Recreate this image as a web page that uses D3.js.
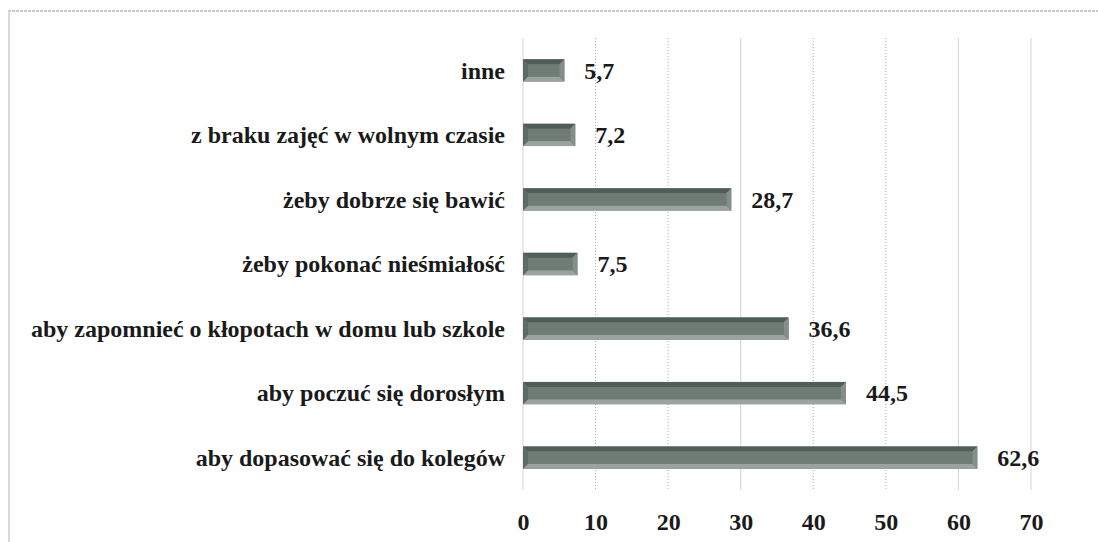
<!DOCTYPE html>
<meta charset="utf-8">
<style>
body { margin: 0; background: #fff; }
svg { font-family: "Liberation Serif", "Times New Roman", serif; font-weight: bold; }
.cat { font-size: 24px; fill: #1a1a1a; }
.val { font-size: 24px; fill: #1a1a1a; }
.tick text { font-size: 24px; fill: #1a1a1a; font-family: "Liberation Serif", serif; font-weight: bold; }
</style>
<body>
<div id="chart"></div>
<script src="https://cdnjs.cloudflare.com/ajax/libs/d3/7.8.5/d3.min.js"></script>
<script>
var categories = [
  "inne",
  "z braku zajęć w wolnym czasie",
  "żeby dobrze się bawić",
  "żeby pokonać nieśmiałość",
  "aby zapomnieć o kłopotach w domu lub szkole",
  "aby poczuć się dorosłym",
  "aby dopasować się do kolegów"
];
var values = [5.7, 7.2, 28.7, 7.5, 36.6, 44.5, 62.6];
var tickValues = [0, 10, 20, 30, 40, 50, 60, 70];

var W = 1098, H = 542;
var margin = {top: 38, left: 523, right: 67, bottom: 52};

var svg = d3.select("#chart").append("svg")
    .attr("width", W)
    .attr("height", H);

// frame: dotted top edge and light left edge
svg.append("line")
    .attr("x1", 8).attr("x2", W).attr("y1", 11).attr("y2", 11)
    .attr("stroke", "#c8c8c8").attr("stroke-width", 2).attr("stroke-dasharray", "3,1");
svg.append("line")
    .attr("x1", 9).attr("x2", 9).attr("y1", 11).attr("y2", H)
    .attr("stroke", "#dadada").attr("stroke-width", 2);

var x = d3.scaleLinear().domain([0, 70]).range([margin.left, W - margin.right]);
var y = d3.scaleBand().domain(categories).range([margin.top, H - margin.bottom]).paddingInner(0.655).paddingOuter(0.33);

// grid
svg.append("g").selectAll("line")
    .data(tickValues)
    .enter().append("line")
    .attr("x1", function(d) { return x(d); })
    .attr("x2", function(d) { return x(d); })
    .attr("y1", margin.top)
    .attr("y2", H - margin.bottom)
    .attr("stroke", function(d) { return d % 30 == 0 || d == 70 ? "#d4d4d4" : "#aaa"; })
    .attr("stroke-width", 1)
    .attr("stroke-dasharray", function(d) { return d % 30 == 0 || d == 70 ? null : "1,2"; });

// x axis labels
var xAxis = d3.axisBottom(x).tickValues(tickValues).tickSize(0).tickPadding(0);
var ax = svg.append("g")
    .attr("class", "x axis")
    .attr("transform", "translate(0," + (H - 20) + ")")
    .call(xAxis);
ax.select(".domain").remove();
ax.selectAll("text").attr("dy", "0.35em");

// bars with bevel
var bev = 5;
var bars = svg.append("g").selectAll("g")
    .data(categories)
    .enter().append("g")
    .attr("transform", function(d) { return "translate(" + x(0) + "," + y(d) + ")"; });

bars.each(function(d, i) {
  var g = d3.select(this);
  var w = x(values[i]) - x(0), h = y.bandwidth();
  g.append("rect").attr("width", w).attr("height", h).attr("fill", "#6a7771");
  g.append("polygon")
    .attr("points", [[0,0],[w,0],[w-bev,bev],[bev,bev]].join(" "))
    .attr("fill", "#515e58");
  g.append("polygon")
    .attr("points", [[0,h],[w,h],[w-bev,h-bev],[bev,h-bev]].join(" "))
    .attr("fill", "#9aa39f");
  g.append("polygon")
    .attr("points", [[0,0],[bev,bev],[bev,h-bev],[0,h]].join(" "))
    .attr("fill", "#5e6a65");
  g.append("polygon")
    .attr("points", [[w,0],[w-bev,bev],[w-bev,h-bev],[w,h]].join(" "))
    .attr("fill", "#848e8a");
  g.append("rect").attr("x", bev).attr("y", bev).attr("width", Math.max(0, w - 2*bev)).attr("height", h - 2*bev)
    .attr("fill", "#6f7c76");
});

// category labels
svg.append("g").selectAll("text")
    .data(categories)
    .enter().append("text")
    .attr("class", "cat")
    .attr("x", 505)
    .attr("y", function(d) { return y(d) + y.bandwidth() / 2; })
    .attr("dy", "0.35em")
    .attr("text-anchor", "end")
    .text(function(d) { return d; });

// value labels
svg.append("g").selectAll("text")
    .data(categories)
    .enter().append("text")
    .attr("class", "val")
    .attr("x", function(d, i) { return x(values[i]) + 20; })
    .attr("y", function(d) { return y(d) + y.bandwidth() / 2; })
    .attr("dy", "0.35em")
    .text(function(d, i) { return String(values[i]).replace(".", ","); });
</script>
</body>
